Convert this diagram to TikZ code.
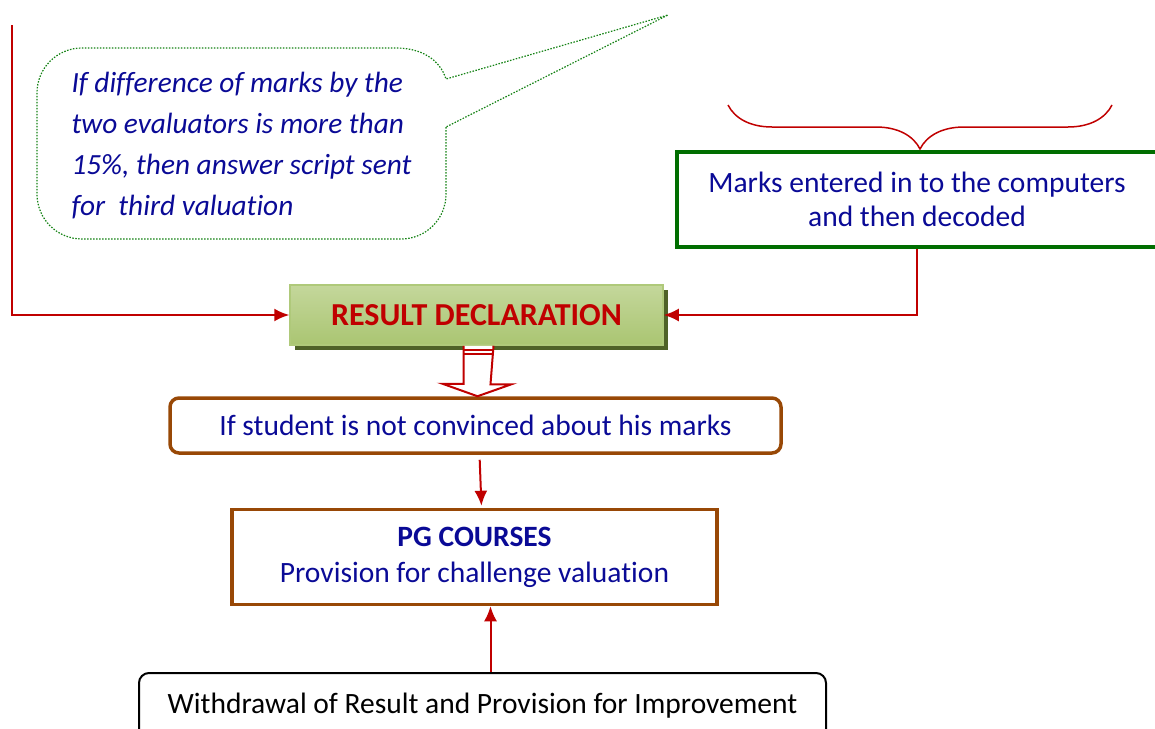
\documentclass[tikz,border=0pt]{standalone}
\usepackage{fontspec}
\setmainfont{Carlito}[Ligatures=NoCommon]
\usepackage{tikz}
\usetikzlibrary{shapes,arrows.meta,calc,positioning,shadows,decorations.pathreplacing}
\tikzset{>={Latex[length=15pt,width=13pt]}}
\definecolor{textblue}{RGB}{10,10,150}
\definecolor{arrowred}{RGB}{192,0,0}
\definecolor{boxbrown}{RGB}{152,72,6}
\definecolor{boxgreen}{RGB}{0,110,0}
\definecolor{dotgreen}{RGB}{20,130,20}
\definecolor{resultlight}{RGB}{196,215,155}
\definecolor{resultmid}{RGB}{155,187,89}
\definecolor{resultshadow}{RGB}{79,98,40}
\tikzset{
  redline/.style={draw=arrowred, line width=2pt},
  brownbox/.style={draw=boxbrown, line width=3.5pt, text=textblue, inner sep=0pt, align=center},
  bodytext/.style={font=\fontsize{29.5}{35}\selectfont},
  bubbleline/.style={draw=dotgreen, line width=1.2pt, dash pattern=on 1.5pt off 1.5pt}
}

\begin{document}
\begin{tikzpicture}[x=1pt,y=-1pt]
          \useasboundingbox (0,0) rectangle (1155,728);

          % callout bubble
          \coordinate (tip) at (668,15);
          \draw[bubbleline] (446,127) -- (446,194) .. controls (446,219) and (426,239) .. (401,239) -- (82,239)
            .. controls (57,239) and (37,219) .. (37,194) -- (37,93) .. controls (37,68) and (57,48) .. (82,48) -- (396,48)
            .. controls (422,48) and (440,60) .. (446,79) -- (tip) -- cycle;
          \node[anchor=west, align=left, text=textblue, font=\fontsize{29.3}{41}\selectfont\itshape] (rule) at (68,146)
            {If difference of marks by the\\two evaluators is more than\\15\%, then answer script sent\\for\ \ third valuation};

          % main boxes
          \node[draw=boxgreen, line width=3.5pt, minimum width=480pt, minimum height=95pt, inner sep=0pt,
                text=textblue, align=center, font=\fontsize{29.5}{34}\selectfont] (marks) at (917,199.5)
            {Marks entered in to the computers\\and then decoded};
          \node[draw=resultmid!80!white, line width=1.5pt, top color=resultlight, middle color=resultmid, bottom color=resultmid!85!white,
                drop shadow={shadow xshift=5pt, shadow yshift=-5pt, fill=resultshadow, opacity=1},
                minimum width=373pt, minimum height=60pt, inner sep=0pt, text=arrowred,
                font=\fontsize{32}{34}\selectfont\bfseries] (result) at (476.5,315) {RESULT DECLARATION};
          \node[brownbox, rounded corners=9pt, minimum width=611pt, minimum height=55pt, bodytext] (ifbox) at (475.5,425.5)
            {\raisebox{-6pt}{If student is not convinced about his marks}};
          \node[brownbox, minimum width=485pt, minimum height=95pt, font=\fontsize{29.5}{36}\selectfont] (pg) at (474.5,557)
            {\textbf{PG COURSES}\\Provision for challenge valuation};
          \node[draw=black, line width=2pt, rounded corners=10pt, minimum width=687pt, minimum height=66pt, inner sep=0pt,
                bodytext] (withdraw) at (482.5,706) {Withdrawal of Result and Provision for Improvement};

          % brace over the marks box
          \draw[draw=arrowred, line width=1.5pt, decorate, decoration={brace, mirror, amplitude=44pt}]
            (728,105) -- (1112,105);

          % connectors
          \coordinate (lefttop) at (12,25);
          \draw[redline,->] (lefttop) |- (result.west);
          \draw[redline,->] (marks.south) |- (result.east);
          \draw[redline,->, shorten <=5pt, shorten >=2pt] ([xshift=4pt]ifbox.south) -- ([xshift=7pt]pg.north);
          \draw[redline,->] ([xshift=8pt]withdraw.north) -- ([xshift=8pt]withdraw.north |- pg.south);

          % hollow arrow below the result box
          \draw[draw=arrowred, line width=2pt, fill=white, line join=miter]
            ([xshift=-13pt]result.south) -- ++(0,38) -- ++(-21,0) -- ([xshift=2pt]ifbox.north)
            -- ++(34,-12) -- ++(-21,0) -- ([xshift=17pt]result.south);
          \draw[draw=arrowred, line width=1.5pt] ([xshift=-13pt,yshift=-4pt]result.south) -- ++(30,0);
          \draw[draw=arrowred, line width=1.5pt] ([xshift=-13pt,yshift=-8pt]result.south) -- ++(30,0);
        \end{tikzpicture}
\end{document}
